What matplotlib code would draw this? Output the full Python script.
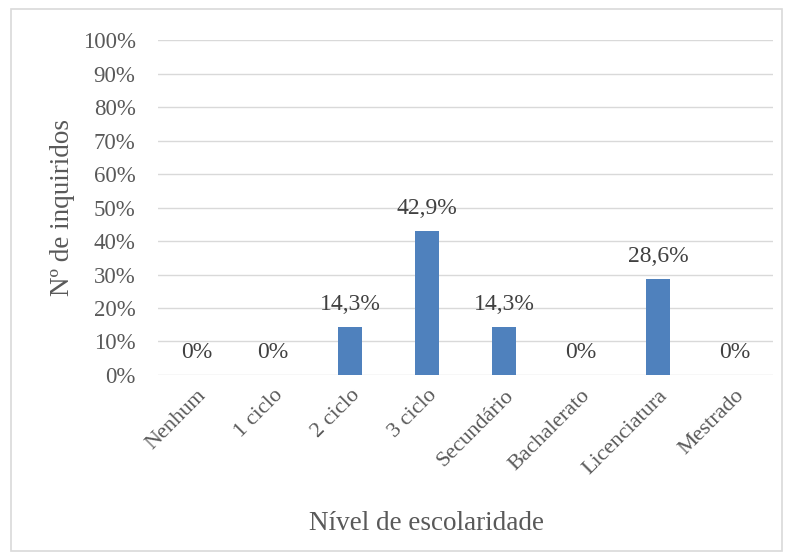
import matplotlib.pyplot as plt
from matplotlib.patches import Rectangle

categories = ['Nenhum', '1 ciclo', '2 ciclo', '3 ciclo', 'Secundário',
              'Bachalerato', 'Licenciatura', 'Mestrado']
valores = [0, 0, 14.3, 42.9, 14.3, 0, 28.6, 0]
rotulos = ['0%', '0%', '14,3%', '42,9%', '14,3%', '0%', '28,6%', '0%']
yticks = list(range(0, 101, 10))

plt.rcParams['font.family'] = ['Liberation Serif', 'DejaVu Serif']
cor_texto = '#595959'

fig = plt.figure(figsize=(7.89, 5.58), dpi=100)
ax = fig.add_axes([0.200, 0.328, 0.780, 0.600])

x = range(len(categories))
ax.bar(x, valores, width=0.31, color='#4F81BD', zorder=3)
for xi, v, r in zip(x, valores, rotulos):
    ax.text(xi, v + 5.2, r, ha='center', va='baseline', fontsize=17, color='#404040')

ax.set_xlim(-0.5, len(categories) - 0.5)
ax.set_ylim(0, 100)
ax.set_yticks(yticks)
ax.set_yticklabels([f'{t}%' for t in yticks], fontsize=16.5, color=cor_texto)
ax.set_xticks(list(x))
ax.set_xticklabels(categories, rotation=45, ha='right', rotation_mode='anchor',
                   fontsize=16, color=cor_texto)
ax.tick_params(axis='y', length=0, pad=16)
ax.tick_params(axis='x', length=0, pad=8)
ax.grid(axis='y', color='#d9d9d9', lw=1, zorder=0)
for s in ax.spines.values():
    s.set_visible(False)

fig.text(0.079, 0.628, 'Nº de inquiridos', ha='center', va='center', rotation=90,
         fontsize=19.5, color=cor_texto)
fig.text(0.54, 0.062, 'Nível de escolaridade', ha='center', va='center',
         fontsize=19.5, color=cor_texto)

fig.patches.append(Rectangle((0.014, 0.013), 0.977, 0.970, transform=fig.transFigure,
                             fill=False, edgecolor='#d9d9d9', lw=1.2))

fig.savefig('out.png', dpi=100)
